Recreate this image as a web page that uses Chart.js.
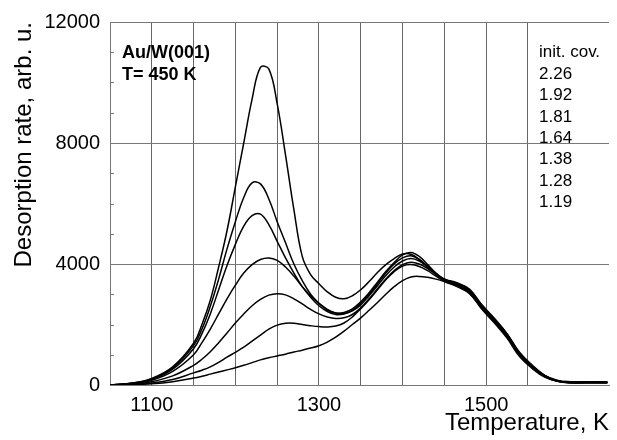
<!DOCTYPE html>
<html>
<head>
<meta charset="utf-8">
<script src="https://cdn.jsdelivr.net/npm/chart.js@4/dist/chart.umd.min.js"></script>
<style>
  body { margin: 0; background: #fff; }
  #wrap { width: 617px; height: 440px; }
</style>
</head>
<body>
<div id="wrap"><canvas id="tpdChart"></canvas></div>
<script>
// Temperatura (K)
const temps = [1050, 1075, 1100, 1125, 1150, 1160, 1170, 1180, 1190, 1200, 1210, 1220, 1230, 1240, 1250, 1260, 1270, 1280, 1290, 1300,
  1310, 1320, 1330, 1340, 1350, 1360, 1370, 1380, 1390, 1400, 1410, 1420, 1430, 1440, 1450, 1465, 1480, 1495, 1510, 1525,
  1540, 1555, 1570, 1585, 1600, 1620, 1645];

// Cobertura inicial de cada curva
const coverages = ['2.26', '1.92', '1.81', '1.64', '1.38', '1.28', '1.19'];

// Velocidad de desorcion (u. arb.)
const cov226 = [0, 60, 220, 600, 1380, 2000, 2800, 3900, 5100, 6550, 8000, 9450, 10500, 10450, 9300, 7600, 5800, 4250, 3650, 3350,
  3080, 2900, 2850, 2950, 3150, 3420, 3720, 3980, 4180, 4330, 4320, 4150, 3900, 3680, 3500, 3350, 3120, 2600, 2150, 1680,
  1050, 620, 320, 160, 110, 110, 110];
const cov192 = [0, 55, 200, 560, 1300, 1850, 2600, 3500, 4500, 5400, 6200, 6680, 6650, 6150, 5400, 4700, 4000, 3450, 3000, 2700,
  2480, 2380, 2400, 2520, 2750, 3050, 3400, 3750, 4050, 4300, 4380, 4250, 3980, 3700, 3500, 3380, 3170, 2650, 2200, 1700,
  1080, 660, 320, 140, 90, 90, 90];
const cov181 = [0, 50, 185, 520, 1200, 1700, 2350, 3150, 3950, 4650, 5250, 5600, 5650, 5300, 4750, 4200, 3700, 3250, 2900, 2620,
  2430, 2330, 2350, 2470, 2700, 3000, 3350, 3700, 4000, 4200, 4270, 4150, 3920, 3680, 3480, 3320, 3100, 2580, 2150, 1650,
  1030, 620, 300, 130, 80, 80, 80];
const cov164 = [0, 45, 160, 450, 1000, 1400, 1850, 2350, 2850, 3300, 3700, 3980, 4150, 4200, 4120, 3900, 3600, 3250, 2950, 2700,
  2500, 2380, 2360, 2450, 2650, 2950, 3280, 3620, 3900, 4100, 4180, 4100, 3900, 3680, 3500, 3360, 3150, 2620, 2180, 1670,
  1050, 640, 310, 140, 90, 90, 90];
const cov138 = [0, 30, 110, 300, 650, 850, 1100, 1400, 1720, 2050, 2350, 2620, 2830, 2970, 3020, 2980, 2850, 2680, 2500, 2350,
  2250, 2200, 2220, 2330, 2550, 2850, 3180, 3500, 3780, 3980, 4060, 4000, 3850, 3650, 3480, 3300, 3080, 2560, 2120, 1620,
  1000, 600, 290, 130, 80, 80, 80];
const cov128 = [0, 20, 70, 180, 400, 490, 600, 750, 920, 1080, 1250, 1450, 1650, 1850, 1980, 2040, 2040, 2000, 1960, 1930,
  1920, 1950, 2050, 2250, 2520, 2820, 3150, 3480, 3750, 3930, 3980, 3920, 3780, 3600, 3430, 3250, 3030, 2520, 2080, 1590,
  980, 580, 280, 130, 80, 80, 80];
const cov119 = [0, 10, 40, 110, 230, 290, 360, 430, 500, 570, 650, 740, 830, 900, 960, 1020, 1090, 1150, 1220, 1300,
  1420, 1580, 1780, 2000, 2220, 2470, 2730, 3000, 3250, 3450, 3570, 3590, 3560, 3500, 3420, 3280, 3030, 2500, 2050, 1550,
  940, 550, 260, 120, 70, 70, 70];

const series = [cov226, cov192, cov181, cov164, cov138, cov128, cov119];

const fontFam = "'Liberation Sans', Arial, sans-serif";

// Textos dentro del grafico y marcas menores del eje Y
const extras = {
  id: 'extras',
  afterDraw(chart) {
    const ctx = chart.ctx;
    const area = chart.chartArea;
    const yScale = chart.scales.y;
    ctx.save();
    ctx.strokeStyle = '#777';
    ctx.lineWidth = 1;
    for (let v = 1000; v < 12000; v += 1000) {
      if (v % 4000 === 0) continue;
      const y = Math.round(yScale.getPixelForValue(v)) + 0.5;
      ctx.beginPath();
      ctx.moveTo(area.left, y);
      ctx.lineTo(area.left + 4, y);
      ctx.stroke();
    }
    ctx.fillStyle = '#000';
    ctx.textBaseline = 'alphabetic';
    ctx.font = 'bold 18px ' + fontFam;
    ctx.fillText('Au/W(001)', area.left + 12, area.top + 36);
    ctx.fillText('T= 450 K', area.left + 12, area.top + 58);
    ctx.font = '17px ' + fontFam;
    const lx = area.left + 429;
    ctx.fillText('init. cov.', lx, area.top + 35);
    coverages.forEach((c, i) => {
      ctx.fillText(c, lx, area.top + 57 + i * 21.3);
    });
    ctx.restore();
  }
};

const ctx = document.getElementById('tpdChart').getContext('2d');
const tpdChart = new Chart(ctx, {
  type: 'line',
  data: {
    datasets: series.map((vals, i) => ({
      label: coverages[i],
      data: temps.map((t, j) => ({ x: t, y: vals[j] })),
      borderColor: '#000',
      borderWidth: 1.5,
      pointRadius: 0,
      fill: false,
      tension: 0.4
    }))
  },
  options: {
    responsive: true,
    maintainAspectRatio: false,
    animation: false,
    layout: { padding: { top: 18, right: 0, bottom: 0, left: 0 } },
    plugins: {
      legend: { display: false },
      tooltip: { enabled: false }
    },
    scales: {
      x: {
        type: 'linear',
        min: 1050,
        max: 1647,
        afterFit: s => { s.height = 55; },
        border: { color: '#777' },
        grid: {
          drawTicks: false,
          color: c => (c.tick && c.tick.value % 50 === 0 && c.tick.value > 1050) ? '#666' : 'transparent'
        },
        ticks: {
          stepSize: 50,
          autoSkip: false,
          maxRotation: 0,
          padding: 8,
          color: '#000',
          font: { family: fontFam, size: 20 },
          callback: v => ((v - 1100) % 200 === 0 ? v : '')
        },
        title: {
          display: true,
          text: 'Temperature, K',
          align: 'end',
          color: '#000',
          padding: { top: 0, bottom: 2 },
          font: { family: fontFam, size: 24 }
        }
      },
      y: {
        min: 0,
        max: 12000,
        afterFit: s => { s.width = 110; },
        border: { color: '#777' },
        grid: {
          drawTicks: false,
          color: c => (c.tick && c.tick.value % 4000 === 0) ? '#777' : 'transparent'
        },
        ticks: {
          stepSize: 1000,
          autoSkip: false,
          padding: 10,
          color: '#000',
          font: { family: fontFam, size: 20 },
          callback: v => (v % 4000 === 0 ? v : '')
        },
        title: {
          display: true,
          text: 'Desorption rate, arb. u.',
          align: 'end',
          color: '#000',
          padding: { top: 10, bottom: 0 },
          font: { family: fontFam, size: 24 }
        }
      }
    }
  },
  plugins: [extras]
});
</script>
</body>
</html>
